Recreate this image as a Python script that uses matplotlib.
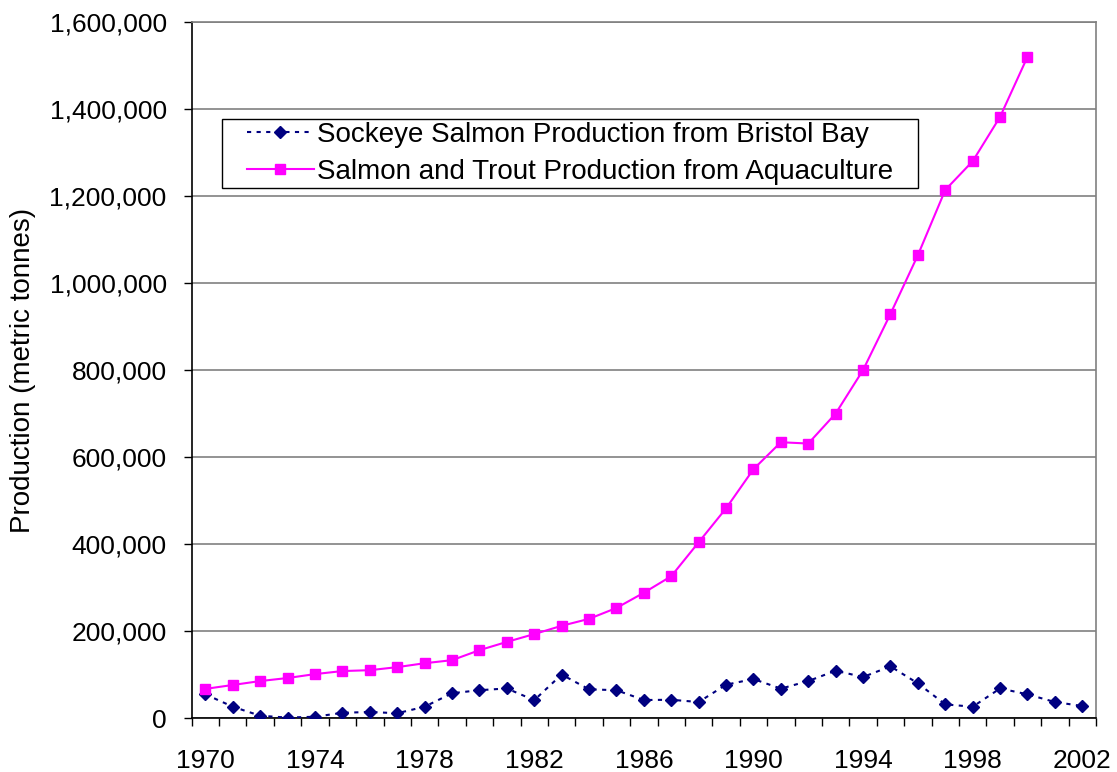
import numpy as np
import matplotlib
matplotlib.use('Agg')
import matplotlib.pyplot as plt
from matplotlib.patches import Rectangle
from matplotlib.ticker import FuncFormatter, FixedLocator

plt.rcParams['font.family'] = ['Liberation Sans', 'DejaVu Sans']

# Production data, metric tonnes
years = list(range(1970, 2003))
bristol_bay = [54500, 26000, 5300, 1000, 3000, 12000, 14000, 11000, 26000, 57000,
               64000, 68000, 41000, 100000, 66000, 64000, 41400, 42000, 36800, 76600,
               89700, 67600, 85000, 108800, 94300, 118800, 79700, 31400, 26000, 68000,
               54500, 36800, 27600]
aqua_years = list(range(1970, 2001))
aquaculture = [67000, 76000, 85000, 92000, 101000, 108000, 110000, 117000, 126000, 133000,
               156000, 175000, 193000, 212000, 228000, 253000, 288000, 326000, 404000, 482000,
               572000, 634000, 631000, 700000, 800000, 929000, 1064000, 1214000, 1280000, 1382000,
               1520000]
y_ticks = np.arange(0, 1600001, 200000)
label_years = list(range(1970, 2003, 4))

fig = plt.figure(figsize=(11.17, 7.72), dpi=100)
ax = fig.add_axes([0.1716, 0.0699, 0.8096, 0.9016])

# category positions
xb = [years.index(y) for y in years]
xa = [years.index(y) for y in aqua_years]

ax.plot(xb, bristol_bay, color='#000080', linestyle=(0, (2.0, 2.6)), linewidth=1.5,
        marker='D', markersize=5.8, label='Sockeye Salmon Production from Bristol Bay', zorder=3)
ax.plot(xa, aquaculture, color='#FF00FF', linestyle='-', linewidth=1.5,
        marker='s', markersize=7.5, label='Salmon and Trout Production from Aquaculture', zorder=3)

ax.set_xlim(-0.5, len(years) - 0.5)
ax.set_ylim(0, 1600000)

ax.set_yticks(y_ticks)
ax.yaxis.set_major_formatter(FuncFormatter(lambda v, p: f'{int(v):,}'))
ax.yaxis.grid(True, color='#808080', linewidth=1.2)
ax.set_axisbelow(True)

ax.xaxis.set_major_locator(FixedLocator([years.index(y) for y in label_years]))
ax.set_xticklabels([str(y) for y in label_years])
ax.xaxis.set_minor_locator(FixedLocator(np.arange(-0.5, len(years), 1.0)))
ax.tick_params(axis='x', which='major', length=0, pad=22, labelsize=19)
ax.tick_params(axis='x', which='minor', length=5.5, width=1, direction='out')
ax.tick_params(axis='y', which='major', length=6, width=1, direction='out', pad=12, labelsize=19)

for side in ['top', 'right']:
    ax.spines[side].set_color('#808080')
    ax.spines[side].set_linewidth(1.2)
for side in ['left', 'bottom']:
    ax.spines[side].set_color('black')
    ax.spines[side].set_linewidth(1.2)

ax.set_ylabel('Production (metric tonnes)', fontsize=20, labelpad=10)

# legend without its own frame; a wider box is drawn around it below
leg = ax.legend(loc='upper left', bbox_to_anchor=(0.0612, 0.857), fontsize=20,
                frameon=False, handlelength=2.4, labelspacing=0.4, borderpad=0,
                handletextpad=0.12, borderaxespad=0)

fig.canvas.draw()
bb = leg.get_window_extent().transformed(fig.transFigure.inverted())
padx, pady = 25 / fig.bbox.width, 3 / fig.bbox.height
fig.add_artist(Rectangle((bb.x0 - padx, bb.y0 - pady), bb.width + 2 * padx,
                         bb.height + 2 * pady, transform=fig.transFigure,
                         facecolor='white', edgecolor='black', linewidth=1.0, zorder=2.5))
leg.set_zorder(3)
leg.remove()
fig.add_artist(leg)

fig.savefig('out.png', dpi=100)
